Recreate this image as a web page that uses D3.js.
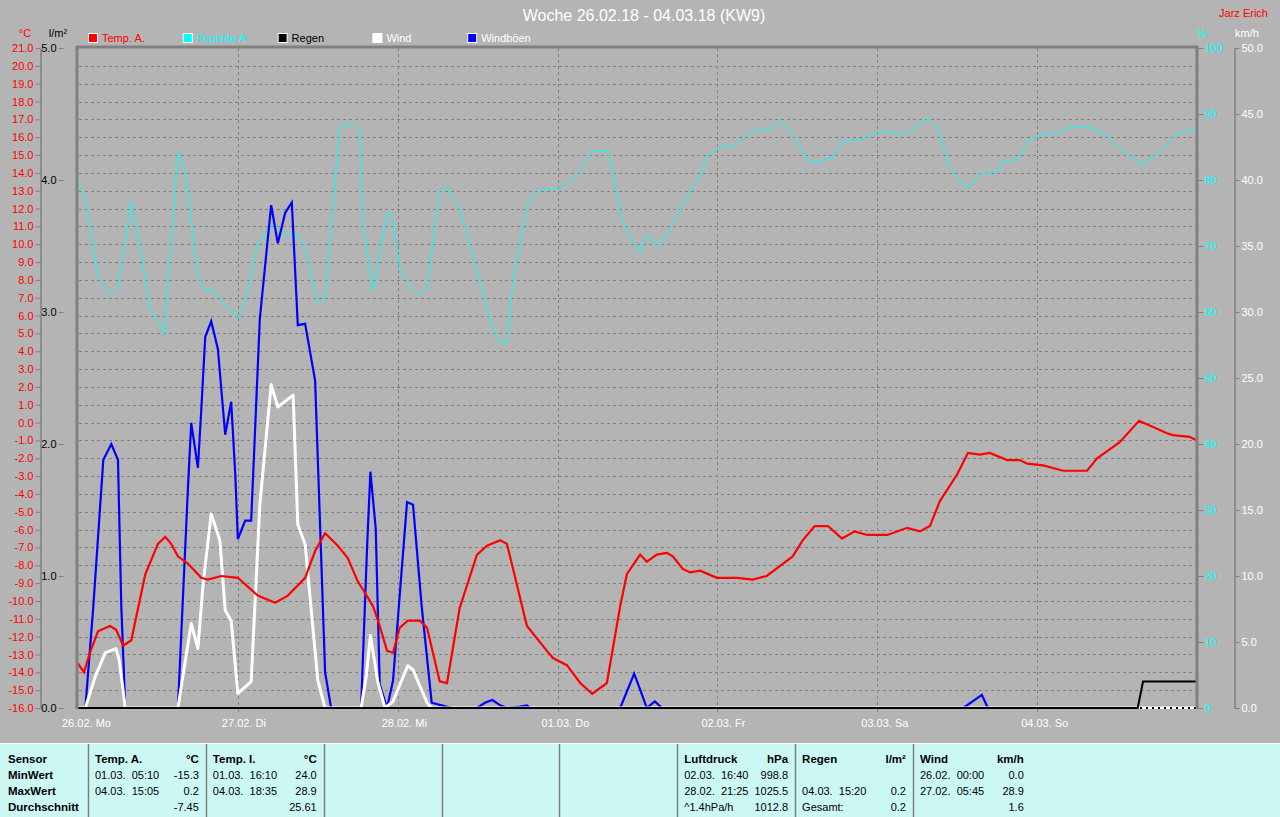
<!DOCTYPE html>
<html><head><meta charset="utf-8">
<script src="https://cdn.jsdelivr.net/npm/d3@7"></script>
<style>
html,body{margin:0;padding:0;background:#b4b4b4;}
svg{display:block;font-family:"Liberation Sans",Arial,sans-serif;}
</style></head><body>
<svg id="c" width="1280" height="817"></svg>
<script>
// ---------- data (hours since 26.02. 00:00, value) ----------
const dayLabels = ["26.02. Mo","27.02. Di","28.02. Mi","01.03. Do","02.03. Fr","03.03. Sa","04.03. So"];
const tempTicks = d3.range(-16, 22, 1);
const rainTicks = [0,1,2,3,4,5];
const humTicks = [0,10,20,30,40,50,60,70,80,90,100];
const windTicks = [0,5,10,15,20,25,30,35,40,45,50];

const tempA = [[0,-13.5],[0.9,-14.0],[1.8,-12.9],[3.0,-11.7],[4.8,-11.4],[5.7,-11.6],[6.8,-12.5],[8.0,-12.2],[10.1,-8.5],[12.0,-6.8],[13.1,-6.4],[14.0,-6.8],[15.0,-7.5],[16.5,-7.9],[18.5,-8.7],[19.5,-8.8],[21.5,-8.6],[24.0,-8.7],[27.0,-9.7],[29.6,-10.1],[31.5,-9.7],[34.1,-8.7],[35.6,-7.2],[37.1,-6.2],[39.0,-6.9],[40.5,-7.6],[42.0,-8.9],[43.5,-9.8],[44.3,-10.3],[45.3,-11.4],[46.4,-12.8],[47.3,-12.9],[48.3,-11.5],[49.5,-11.1],[51.3,-11.1],[52.4,-11.5],[54.3,-14.5],[55.4,-14.6],[57.3,-10.4],[59.9,-7.4],[61.4,-6.9],[63.4,-6.6],[64.4,-6.8],[67.4,-11.4],[70.4,-12.8],[71.3,-13.2],[73.4,-13.6],[75.4,-14.6],[77.2,-15.2],[79.4,-14.6],[81.4,-10.3],[82.4,-8.5],[84.4,-7.4],[85.4,-7.8],[86.9,-7.4],[88.4,-7.3],[89.3,-7.5],[90.8,-8.2],[91.9,-8.4],[93.4,-8.3],[95.9,-8.7],[98.9,-8.7],[101.3,-8.8],[103.4,-8.6],[107.3,-7.5],[108.8,-6.6],[110.6,-5.8],[112.6,-5.8],[114.7,-6.5],[116.6,-6.1],[118.5,-6.3],[121.5,-6.3],[124.5,-5.9],[126.4,-6.1],[127.9,-5.8],[129.4,-4.4],[132.0,-2.9],[133.6,-1.7],[135.4,-1.8],[136.9,-1.7],[139.5,-2.1],[141.4,-2.1],[142.5,-2.3],[144.9,-2.4],[147.9,-2.7],[151.5,-2.7],[153.0,-2.0],[156.4,-1.1],[159.3,0.1],[163.5,-0.6],[164.4,-0.7],[166.9,-0.8],[168,-1.0]];

const humidity = [[0,79.4],[1.1,77.4],[3.0,65.3],[5.0,62.6],[6.0,63.5],[8.0,76.8],[9.5,68.5],[11.0,59.7],[12.0,58.8],[12.9,56.7],[15.0,84.2],[16.1,81.5],[18.0,65.6],[19.1,63.2],[20.0,63.6],[22.1,61.2],[24.0,59.1],[25.1,61.5],[27.0,70.3],[29.3,73.5],[31.1,71.5],[32.7,71.8],[34.1,69.7],[36.0,61.5],[37.1,62.1],[39.3,88.0],[41.3,88.6],[42.3,87.5],[42.8,73.3],[44.3,63.2],[45.0,67.4],[46.4,75.0],[47.1,75.0],[48.3,66.5],[50.3,63.2],[51.3,62.7],[52.4,63.5],[54.3,78.3],[55.4,79.0],[57.3,75.6],[59.3,68.5],[62.3,57.3],[63.4,55.4],[64.4,55.4],[65.3,64.4],[67.4,76.2],[69.4,78.7],[71.3,78.5],[73.4,79.4],[75.4,81.5],[77.3,84.3],[79.4,84.5],[80.3,81.5],[81.4,74.7],[82.4,72.4],[84.4,69.0],[85.4,71.8],[86.6,70.2],[87.4,70.0],[89.3,73.3],[91.4,77.4],[93.4,80.6],[94.6,83.9],[96.4,84.9],[98.3,85.2],[100.4,86.8],[102.4,87.7],[103.6,87.5],[105.4,88.9],[107.3,87.1],[109.6,83.0],[110.9,82.7],[113.3,83.4],[114.8,85.8],[117.4,86.1],[119.4,87.0],[121.5,87.5],[123.0,87.0],[124.6,87.0],[126.4,88.6],[127.8,89.3],[129.0,88.0],[130.9,81.8],[132.9,79.2],[133.8,78.9],[135.4,80.9],[138.0,81.2],[138.9,83.0],[141.0,83.0],[142.9,86.2],[145.5,87.1],[147.0,87.0],[148.9,88.0],[151.9,88.0],[154.5,86.8],[155.4,85.6],[157.5,83.9],[159.7,82.3],[162.0,83.9],[165.0,87.1],[166.5,87.4],[168,88.0]];

const wind = [[0,0],[1.1,0],[2.6,2.4],[4.1,4.2],[5.7,4.5],[6.2,3.6],[7.1,0],[15.0,0],[17.0,6.4],[18.0,4.5],[18.8,9.5],[20.0,14.7],[21.3,12.7],[22.1,7.4],[23.0,6.6],[24.0,1.1],[26.0,2.0],[27.3,15.4],[29.0,24.5],[30.0,22.8],[32.3,23.7],[33.0,13.9],[34.1,12.4],[36.0,2.1],[37.1,0],[42.5,0],[43.3,2.5],[43.9,5.5],[45.0,2.0],[46.1,0],[47.3,0.5],[49.5,3.2],[50.3,2.9],[52.4,0.4],[53.1,0],[168,0]];

const gusts = [[0,0],[1.1,0],[2.3,7.7],[3.8,18.8],[5.0,20.0],[6.0,18.8],[6.5,7.7],[7.1,0],[15.0,0],[16.5,16.6],[17.0,21.6],[18.0,18.2],[18.5,22.5],[19.1,28.1],[20.0,29.3],[21.0,27.2],[22.1,20.7],[23.0,23.2],[23.6,17.8],[24.0,12.8],[25.1,14.2],[26.0,14.2],[27.3,29.5],[29.0,38.1],[30.0,35.2],[31.1,37.5],[32.1,38.3],[33.0,29.0],[34.1,29.1],[35.6,24.8],[37.1,2.7],[38.0,0],[42.5,0],[43.4,12.2],[43.9,17.9],[44.7,13.6],[45.3,1.8],[46.4,0],[47.3,2.1],[49.4,15.6],[50.3,15.4],[51.6,7.7],[53.1,0.4],[54.6,0.2],[56.1,0],[59.9,0],[61.1,0.4],[62.2,0.6],[63.4,0.2],[64.4,0],[66.4,0.1],[67.4,0.2],[67.9,0],[81.4,0],[83.5,2.6],[84.4,1.4],[85.4,0],[86.6,0.5],[87.7,0],[132.9,0],[135.7,1.0],[136.6,0],[168,0]];

const rain = [[0,0],[159.1,0],[159.9,0.2],[168,0.2]];

const legendItems = ["Temp. A.","Feuchte A.","Regen","Wind","Windböen"];
const legendColors = ["#ff0000","#00ffff","#000000","#ffffff","#0000ff"];
const legendTextColors = ["#ff0000","#00ffff","#000000","#ffffff","#ffffff"];

const footerRowLabels = ["Sensor","MinWert","MaxWert","Durchschnitt"];
const footerCols = [
  {head:["Temp. A.","°C"], rows:[["01.03.  05:10","-15.3"],["04.03.  15:05","0.2"],["","-7.45"]]},
  {head:["Temp. I.","°C"], rows:[["01.03.  16:10","24.0"],["04.03.  18:35","28.9"],["","25.61"]]},
  null, null, null,
  {head:["Luftdruck","hPa"], rows:[["02.03.  16:40","998.8"],["28.02.  21:25","1025.5"],["^1.4hPa/h","1012.8"]]},
  {head:["Regen","l/m²"], rows:[["",""],["04.03.  15:20","0.2"],["Gesamt:","0.2"]]},
  {head:["Wind","km/h"], rows:[["26.02.  00:00","0.0"],["27.02.  05:45","28.9"],["","1.6"]]}
];

// ---------- layout ----------
const svg = d3.select("#c");
const L = 78, R = 1197, T = 48, B = 708;
const x = d3.scaleLinear().domain([0,168]).range([L,R]);
const yT = d3.scaleLinear().domain([-16,21]).range([B,T]);
const yR = d3.scaleLinear().domain([0,5]).range([B,T]);
const yH = d3.scaleLinear().domain([0,100]).range([B,T]);
const yW = d3.scaleLinear().domain([0,50]).range([B,T]);
const GRID = "#808080";

svg.append("rect").attr("width",1280).attr("height",817).attr("fill","#b4b4b4");

// title
svg.append("text").attr("x",644).attr("y",21).attr("text-anchor","middle")
  .attr("fill","#ffffff").attr("font-size",16).text("Woche 26.02.18 - 04.03.18 (KW9)");
svg.append("text").attr("x",1268).attr("y",17).attr("text-anchor","end")
  .attr("fill","#ff0000").attr("font-size",11).text("Jarz Erich");

// unit labels
const units = [[25,"°C","#ff0000"],[58,"l/m²","#000000"],[1202,"%","#00ffff"],[1247,"km/h","#ffffff"]];
units.forEach(u=>svg.append("text").attr("x",u[0]).attr("y",37).attr("text-anchor","middle")
  .attr("fill",u[2]).attr("font-size",11).text(u[1]));

// legend
legendItems.forEach((n,i)=>{
  const lx = 88 + i*94.8;
  svg.append("rect").attr("x",lx+0.5).attr("y",33.5).attr("width",9).attr("height",9)
    .attr("fill",legendColors[i]).attr("stroke","#ffffff").attr("stroke-width",1);
  svg.append("text").attr("x",lx+14).attr("y",42).attr("fill",legendTextColors[i])
    .attr("font-size",11).text(n);
});

// grid
const g = svg.append("g");
tempTicks.filter(t=>t>-16 && t<21).forEach(t=>{
  g.append("line").attr("x1",L+1).attr("x2",R-1).attr("y1",Math.round(yT(t))+0.5).attr("y2",Math.round(yT(t))+0.5)
    .attr("stroke",GRID).attr("stroke-dasharray","3,3");
});
d3.range(1,7).forEach(d=>{
  const xx = Math.round(x(d*24))+0.5;
  g.append("line").attr("x1",xx).attr("x2",xx).attr("y1",T).attr("y2",B)
    .attr("stroke",GRID).attr("stroke-dasharray","3,3");
  g.append("line").attr("x1",xx).attr("x2",xx).attr("y1",B).attr("y2",B+4).attr("stroke",GRID);
});

// axes
function style(sel, color, domain){
  sel.attr("font-size",11).attr("font-family","Liberation Sans, Arial, sans-serif");
  sel.selectAll("text").attr("fill",color);
  sel.selectAll(".tick line").attr("stroke",GRID);
  if(domain) sel.select(".domain").attr("stroke",GRID).attr("stroke-width",1.5);
  else sel.select(".domain").remove();
}
const fmt1 = d => d.toFixed(1);
svg.append("g").attr("transform","translate(40.5,0)")
  .call(d3.axisLeft(yT).tickValues(tempTicks).tickFormat(fmt1).tickSize(5).tickPadding(2).tickSizeOuter(0))
  .call(s=>style(s,"#ff0000",true));
svg.append("g").attr("transform","translate(63.5,0)")
  .call(d3.axisLeft(yR).tickValues(rainTicks).tickFormat(fmt1).tickSize(5).tickPadding(2))
  .call(s=>style(s,"#000000",false));
svg.append("g").attr("transform","translate(1197.5,0)")
  .call(d3.axisRight(yH).tickValues(humTicks).tickFormat(d=>String(d)).tickSize(6).tickPadding(1))
  .call(s=>style(s,"#00ffff",false));
svg.append("g").attr("transform","translate(1234.5,0)")
  .call(d3.axisRight(yW).tickValues(windTicks).tickFormat(fmt1).tickSize(5).tickPadding(2).tickSizeOuter(0))
  .call(s=>style(s,"#ffffff",true));

// day labels
dayLabels.forEach((d,i)=>{
  svg.append("text").attr("x",x(i*24)-16).attr("y",727).attr("fill","#ffffff")
    .attr("font-size",11).style("white-space","pre").text(d);
});

// clip
svg.append("clipPath").attr("id","pc").append("rect").attr("x",L).attr("y",T-2).attr("width",R-L).attr("height",B-T+3);
const plot = svg.append("g").attr("clip-path","url(#pc)");
const line = (ys)=>d3.line().x(d=>x(d[0])).y(d=>ys(d[1]));

plot.append("path").datum(humidity).attr("d",line(yH)).attr("fill","none").attr("stroke","#00ffff").attr("stroke-width",1);
plot.append("path").datum(gusts).attr("d",line(yW)).attr("fill","none").attr("stroke","#0000ff").attr("stroke-width",2.2);
plot.append("path").datum(wind).attr("d",line(yW)).attr("fill","none").attr("stroke","#ffffff").attr("stroke-width",3).attr("stroke-linejoin","round");
plot.append("path").datum(tempA).attr("d",line(yT)).attr("fill","none").attr("stroke","#ff0000").attr("stroke-width",2.2);
plot.append("line").attr("x1",L).attr("x2",R).attr("y1",B).attr("y2",B).attr("stroke","#000").attr("stroke-width",2).attr("stroke-dasharray","2,4");
plot.append("path").datum(rain).attr("d",line(yR)).attr("fill","none").attr("stroke","#000000").attr("stroke-width",2);

// frame
svg.append("line").attr("x1",L-2).attr("x2",R+1).attr("y1",T-1).attr("y2",T-1).attr("stroke",GRID).attr("stroke-width",3);
svg.append("line").attr("x1",L-1).attr("x2",L-1).attr("y1",T-2).attr("y2",B+1).attr("stroke",GRID).attr("stroke-width",3);
svg.append("line").attr("x1",R).attr("x2",R).attr("y1",T-2).attr("y2",B+1).attr("stroke",GRID).attr("stroke-width",3);

// footer
const FY = 743;
svg.append("rect").attr("x",0).attr("y",FY).attr("width",1280).attr("height",817-FY).attr("fill","#ccf8f4");
svg.append("line").attr("x1",0).attr("x2",1280).attr("y1",FY+0.5).attr("y2",FY+0.5).attr("stroke","#ffffff");
const rowY = [763,779,795,811];
footerRowLabels.forEach((t,i)=>svg.append("text").attr("x",8).attr("y",rowY[i]).attr("font-size",11.5)
  .attr("font-weight","bold").attr("fill","#000").text(t));
const colW = 117.85, col0 = 88;
footerCols.forEach((c,i)=>{
  const cx = col0 + i*colW;
  svg.append("line").attr("x1",Math.round(cx)+0.5).attr("x2",Math.round(cx)+0.5).attr("y1",FY+1).attr("y2",817)
    .attr("stroke","#808080").attr("stroke-width",1.5);
  if(!c) return;
  svg.append("text").attr("x",cx+7).attr("y",rowY[0]).attr("font-size",11.5).attr("font-weight","bold").text(c.head[0]);
  svg.append("text").attr("x",cx+colW-7).attr("y",rowY[0]).attr("text-anchor","end").attr("font-size",11.5).attr("font-weight","bold").text(c.head[1]);
  c.rows.forEach((r,j)=>{
    svg.append("text").attr("x",cx+7).attr("y",rowY[j+1]).attr("font-size",11).style("white-space","pre").text(r[0]);
    svg.append("text").attr("x",cx+colW-7).attr("y",rowY[j+1]).attr("text-anchor","end").attr("font-size",11).text(r[1]);
  });
});
</script>
</body></html>
